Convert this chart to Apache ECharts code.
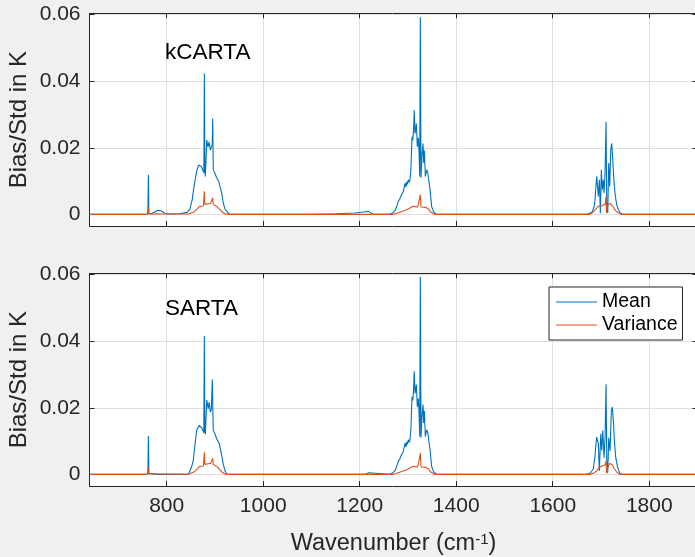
<!DOCTYPE html>
<html><head><meta charset="utf-8">
<script src="https://cdn.jsdelivr.net/npm/echarts@6/dist/echarts.min.js"></script>
<style>html,body{margin:0;padding:0;background:#f0f0f0}#c{width:695px;height:557px}</style>
</head><body><div id="c"></div>
<script>
// ---- data (wavenumber, value) ----
const xTicks = [800, 1000, 1200, 1400, 1600, 1800];
const yTicks = [0, 0.02, 0.04, 0.06];
const seriesNames = ['Mean', 'Variance'];
const panelTitles = ['kCARTA', 'SARTA'];

const kcartaMean = [
 [640,0],[755,0],[761,0.0001],[762,0.0119],[763,0.0003],[768,0.0002],[775,0.0007],[781,0.0012],[788,0.0011],[795,0.0004],[805,0.0001],
 [826,0.0002],[828,0.0008],[830,0.0002],[842,0.0006],[848,0.0016],[853,0.0045],[856,0.0078],[859,0.0104],[862,0.013],[866,0.0148],
 [869,0.0149],[872,0.0143],[875,0.0145],[877,0.0125],[878,0.0423],[879,0.013],[880,0.0114],[883,0.0223],[885.6,0.0203],[887.7,0.0218],
 [889,0.0205],[890.4,0.0193],[892.5,0.0198],[894.5,0.021],[895.3,0.0288],[896.5,0.0135],[898,0.0129],[903.6,0.011],[908,0.0098],
 [910.5,0.0094],[914,0.0064],[917.3,0.0034],[921,0.0015],[924,0.001],[930,0.0001],[940,0],[1100,0],[1150,0.0002],[1190,0.0004],
 [1212,0.0008],[1218,0.0009],[1222,0.0003],[1228,0],[1262,0],[1268,0.0004],[1274,0.0013],[1280,0.0039],[1283,0.0046],[1285,0.0054],
 [1288,0.005],[1290.4,0.0069],[1292,0.0075],[1294,0.0094],[1296,0.0082],[1297.4,0.0098],[1299,0.009],[1300.7,0.0104],[1302.5,0.0096],
 [1304,0.0103],[1306,0.0134],[1308.4,0.0233],[1310,0.0222],[1311.5,0.0253],[1313,0.0313],[1314.5,0.0243],[1316,0.0253],[1317.3,0.0273],
 [1319.4,0.0203],[1321.5,0.023],[1323,0.0184],[1324.3,0.0114],[1325.6,0.0592],[1327,0.011],[1329,0.0173],[1331.2,0.0213],[1332.6,0.0154],
 [1334,0.0192],[1336,0.0114],[1337.5,0.0125],[1338.9,0.0134],[1341,0.0125],[1343,0.0129],[1345.7,0.0074],[1349,0.0024],[1353,0.0008],
 [1358,0.0001],[1365,0],[1670,0],[1677,0.0003],[1682,0.0008],[1684.2,0.0014],[1686,0.0025],[1687.7,0.0044],[1689.5,0.0085],[1691.2,0.0114],
 [1693.2,0.0119],[1694.5,0.0054],[1696.6,0.0104],[1698.7,0.0004],[1700.7,0.0134],[1702.8,0.0074],[1704.9,0.0104],[1706.3,0.0064],
 [1708.4,0.0124],[1710.5,0.0278],[1711.9,0.0034],[1714,0.0004],[1716,0.0154],[1718.1,0.0084],[1720.2,0.0193],[1722.3,0.0213],
 [1724.4,0.0164],[1725.6,0.0134],[1727.7,0.0084],[1729.8,0.0054],[1732.6,0.0029],[1736,0.0014],[1740,0.0004],[1745,0],[1900,0]
];
const kcartaVar = [
 [640,0],[760,0],[761.5,0.0003],[762,0.0022],[763,0.0002],[770,0.0001],[780,0.0002],[790,0.0001],[845,0.0001],[855,0.0006],[862,0.0014],
 [868,0.0024],[872,0.0026],[876,0.0025],[877,0.0028],[878,0.0069],[879,0.003],[880,0.0028],[883,0.0034],[886,0.0032],[888,0.0036],
 [891,0.0033],[894,0.0035],[895.3,0.0049],[896.5,0.003],[900,0.0027],[905,0.0022],[910,0.0015],[915,0.0007],[920,0.0002],[928,0],
 [1270,0],[1280,0.0005],[1290,0.001],[1297.4,0.0014],[1304,0.0019],[1311,0.0024],[1315,0.0027],[1319.4,0.0022],[1321.5,0.003],
 [1324.3,0.0024],[1325.6,0.0059],[1327,0.0022],[1331,0.0025],[1336,0.0021],[1339,0.0021],[1343,0.0016],[1346,0.0008],[1350,0.0002],
 [1356,0],[1675,0],[1682,0.0004],[1687.7,0.0014],[1694.5,0.0024],[1698,0.0027],[1702,0.0026],[1705,0.0028],[1708.4,0.003],
 [1710.5,0.0054],[1711.2,0.0004],[1713.3,0.0026],[1716,0.0031],[1719,0.0033],[1722.3,0.003],[1725.6,0.0022],[1729,0.0014],
 [1733,0.0007],[1737,0.0002],[1742,0],[1900,0]
];
const sartaMean = [
 [640,0],[755,0],[761,0.0001],[762,0.0115],[763,0.0003],[766,0],[782,0],[786,0.0002],[790,0],[845,0],[848.3,0.0011],[852,0.0025],
 [855,0.0041],[858.4,0.0087],[862,0.0132],[867,0.0147],[870,0.0143],[872.5,0.014],[875,0.0138],[876.8,0.0125],[878,0.0416],[879,0.013],
 [880,0.012],[883,0.0223],[886,0.0197],[888,0.0217],[890.4,0.0187],[892.5,0.0195],[894.5,0.0285],[896.5,0.0132],[899,0.0125],
 [903.6,0.0107],[909,0.0092],[914,0.0056],[917.3,0.003],[921,0.001],[924,0],[1212,0],[1216,0.0004],[1219,0.0005],[1222,0],[1262,0],
 [1268,0.0004],[1274,0.0013],[1280,0.0039],[1283,0.0046],[1285,0.0054],[1288,0.005],[1290.4,0.0069],[1292,0.0075],[1294,0.0094],
 [1296,0.0082],[1297.4,0.0098],[1299,0.009],[1300.7,0.0104],[1302.5,0.0096],[1304,0.0103],[1306,0.0134],[1308.4,0.0233],[1310,0.0222],
 [1311.5,0.0253],[1313,0.031],[1314.5,0.0243],[1316,0.0253],[1317.3,0.027],[1319.4,0.0203],[1321.5,0.0228],[1323,0.0184],[1324.3,0.0114],
 [1325.6,0.0593],[1327,0.011],[1329,0.0173],[1331.2,0.021],[1332.6,0.0154],[1334,0.019],[1336,0.0114],[1337.5,0.0125],[1338.9,0.0134],
 [1341,0.0125],[1343,0.0129],[1345.7,0.0074],[1349,0.0024],[1353,0.0008],[1358,0.0001],[1365,0],[1670.5,0],[1678,0.0004],[1684,0.0016],
 [1687.5,0.0055],[1691,0.0112],[1694.5,0.0092],[1696.6,0.001],[1699.5,0.0122],[1701.5,0.0072],[1703.6,0.0132],[1706.3,0.005],
 [1708.4,0.011],[1710.5,0.0271],[1712,0.004],[1714,0.0005],[1716,0.011],[1718.8,0.007],[1721.5,0.0192],[1723.6,0.0202],[1725.6,0.0162],
 [1727.7,0.0101],[1730.6,0.005],[1734.7,0.002],[1739.5,0.0002],[1745,0],[1900,0]
];
const sartaVar = [
 [640,0],[760,0],[761.5,0.0003],[762,0.0021],[763,0.0002],[766,0],[845,0],[855,0.0006],[862,0.0014],[868,0.0024],[872,0.0026],
 [876,0.0025],[877,0.0028],[878,0.0066],[879,0.003],[880,0.0028],[883,0.0033],[886,0.0032],[888,0.0035],[891,0.0033],[894,0.0034],
 [895.3,0.0048],[896.5,0.003],[900,0.0026],[905,0.0022],[910,0.0014],[915,0.0006],[920,0.0002],[926,0],[1270,0],[1280,0.0005],
 [1290,0.001],[1297.4,0.0014],[1304,0.0019],[1311,0.0024],[1315,0.0027],[1319.4,0.0022],[1321.5,0.003],[1324.3,0.0024],[1325.6,0.0063],
 [1327,0.0022],[1331,0.0025],[1336,0.0021],[1339,0.0021],[1343,0.0016],[1346,0.0008],[1350,0.0002],[1356,0],[1678,0],[1685,0.0004],
 [1691,0.001],[1696,0.002],[1701.5,0.0025],[1708.4,0.0028],[1710.5,0.004],[1711.5,0.0003],[1715,0.0025],[1718.8,0.0033],[1723.6,0.0028],
 [1728,0.0016],[1734,0.0004],[1740,0],[1900,0]
];

// ---- styling ----
const FONT = '"Liberation Sans", Arial, Helvetica, sans-serif';
const AX = '#262626';
const BLUE = '#0072BD', ORANGE = '#D95319';
const X_MIN = 640, X_MAX = 1900, Y_MIN = -0.0035, Y_MAX = 0.0604;
const grids = [
  { left: 89.5, top: 13.3, width: 608, height: 212.7 },
  { left: 89.5, top: 273.3, width: 608, height: 212.7 }
];

function xAxisFor(gi, position, labels) {
  return {
    type: 'value', gridIndex: gi, position: position, min: X_MIN, max: X_MAX,
    axisLine: { show: true, onZero: false, lineStyle: { color: AX, width: 1 } },
    axisTick: { show: true, inside: true, length: 5, customValues: xTicks, lineStyle: { color: AX } },
    axisLabel: { show: labels, customValues: xTicks, margin: 10, color: AX, fontSize: 21, fontFamily: FONT,
      formatter: v => String(v) },
    splitLine: { show: position === 'bottom', lineStyle: { color: '#dfdfdf', width: 1 } },
    name: (labels ? 'Wavenumber (cm{sup|-1})' : ''), nameLocation: 'middle', nameGap: 46,
    nameTextStyle: { color: AX, fontSize: 23.5, fontFamily: FONT,
      rich: { sup: { fontSize: 15, verticalAlign: 'top', color: AX, fontFamily: FONT } } }
  };
}
function yAxisFor(gi, position) {
  const left = position === 'left';
  return {
    type: 'value', gridIndex: gi, position: position, min: Y_MIN, max: Y_MAX,
    axisLine: { show: true, onZero: false, lineStyle: { color: AX, width: 1 } },
    axisTick: { show: true, inside: true, length: 5, customValues: yTicks, lineStyle: { color: AX } },
    axisLabel: { show: left, customValues: yTicks, margin: 9, color: AX, fontSize: 21, fontFamily: FONT,
      formatter: v => (Math.abs(v) < 1e-9 ? '0' : String(+v.toFixed(2))) },
    splitLine: { show: left, lineStyle: { color: '#dfdfdf', width: 1 } },
    name: left ? 'Bias/Std in K' : '', nameLocation: 'middle', nameGap: 58, nameMoveOverlap: false,
    nameTextStyle: { color: AX, fontSize: 24, fontFamily: FONT }
  };
}

const xAxes = [xAxisFor(0, 'bottom', false), xAxisFor(0, 'top', false), xAxisFor(1, 'bottom', true), xAxisFor(1, 'top', false)];
const yAxes = [yAxisFor(0, 'left'), yAxisFor(0, 'right'), yAxisFor(1, 'left'), yAxisFor(1, 'right')];

function line(name, data, color, xi, yi) {
  return { type: 'line', name: name, data: data, xAxisIndex: xi, yAxisIndex: yi,
    symbol: 'none', showSymbol: false, lineStyle: { color: color, width: 1.1 }, itemStyle: { color: color },
    animation: false, clip: true, z: 3 };
}

const chart = echarts.init(document.getElementById('c'), null, { renderer: 'canvas' });
chart.setOption({
  backgroundColor: '#f0f0f0',
  animation: false,
  grid: grids.map(g => Object.assign({ show: true, backgroundColor: '#ffffff', borderWidth: 0, containLabel: false, outerBoundsMode: 'none' }, g)),
  xAxis: xAxes,
  yAxis: yAxes,
  legend: {
    data: seriesNames, orient: 'vertical', left: 549, top: 287,
    icon: 'rect', padding: [5, 5, 5, 7], itemGap: 3, itemWidth: 41, itemHeight: 1.2,
    backgroundColor: '#ffffff', borderColor: AX, borderWidth: 1, borderRadius: 0,
    textStyle: { color: '#000', fontSize: 19.5, fontFamily: FONT, lineHeight: 20 },
    selectedMode: false
  },
  graphic: [
    { type: 'text', x: 165, y: 52.5, style: { text: panelTitles[0], fill: '#000', font: '22.5px ' + FONT, verticalAlign: 'middle' }, z: 10 },
    { type: 'text', x: 165, y: 308.5, style: { text: panelTitles[1], fill: '#000', font: '22.5px ' + FONT, verticalAlign: 'middle' }, z: 10 }
  ],
  series: [
    line(seriesNames[0], kcartaMean, BLUE, 0, 0),
    line(seriesNames[1], kcartaVar, ORANGE, 0, 0),
    line(seriesNames[0], sartaMean, BLUE, 2, 2),
    line(seriesNames[1], sartaVar, ORANGE, 2, 2)
  ]
});
</script>
</body></html>
